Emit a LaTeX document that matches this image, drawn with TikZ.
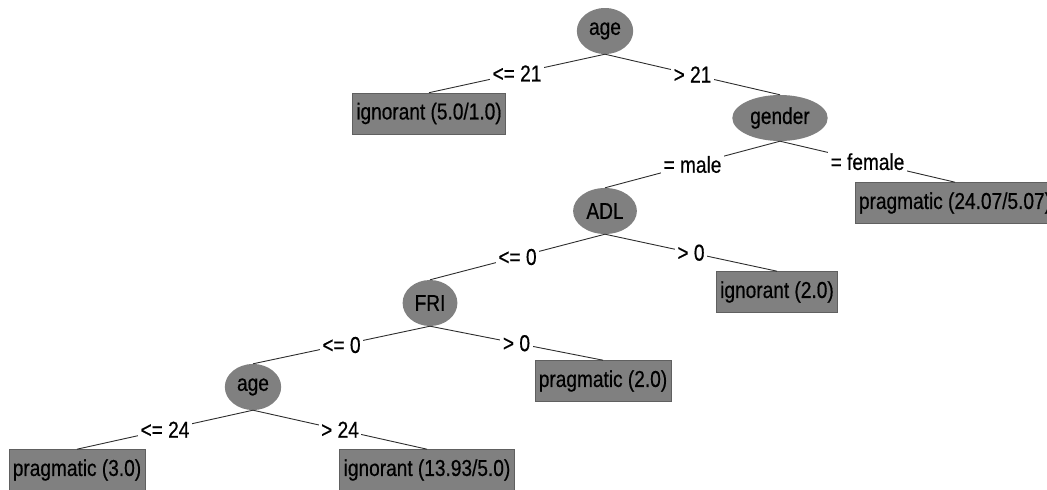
\documentclass[tikz,border=0pt]{standalone}
\usepackage{fontspec}
\setmainfont{Liberation Sans}[FakeStretch=0.83,FakeBold=0.5]
\usetikzlibrary{shapes.geometric}
\definecolor{nodegray}{RGB}{128,128,128}
\definecolor{linegray}{RGB}{45,45,45}
\tikzset{
    every node/.append style={font=\fontsize{23}{27}\selectfont},
    attr/.style={ellipse, fill=nodegray, inner xsep=4pt, minimum height=46pt},
    leaf/.style={rectangle, fill=nodegray, draw=nodegray!75!black, line width=0.6pt,
        inner xsep=4pt, minimum height=41pt},
    cond/.style={fill=white, inner sep=2.5pt},
    branch/.style={draw=linegray, line width=0.9pt},
}

\begin{document}
\begin{tikzpicture}[x=1pt,y=-1pt]
  \clip (0,0) rectangle (1047,490);
  % attribute nodes
  \node[attr] (age) at (605,31) {age};
  \node[attr] (gender) at (780,118) {gender};
  \node[attr] (adl) at (605,211) {ADL};
  \node[attr] (fri) at (430,303) {FRI};
  \node[attr] (agelow) at (253,387) {age};

  % leaves
  \node[leaf] (ignA) at (429,113.5) {ignorant (5.0/1.0)};
  \node[leaf] (pragA) at (955,203) {pragmatic (24.07/5.07)};
  \node[leaf] (ignB) at (777,292) {ignorant (2.0)};
  \node[leaf] (pragB) at (603,381) {pragmatic (2.0)};
  \node[leaf] (pragC) at (77,470) {pragmatic (3.0)};
  \node[leaf] (ignC) at (427,470) {ignorant (13.93/5.0)};

  % branches
  \draw (age.south) edge[branch] node[cond] {<= 21} (ignA.north);
  \draw (age.south) edge[branch] node[cond] {> 21} (gender.north);
  \draw (gender.south) edge[branch] node[cond] {= male} (adl.north);
  \draw (gender.south) edge[branch] node[cond] {= female} (pragA.north);
  \draw (adl.south) edge[branch] node[cond] {<= 0} (fri.north);
  \draw (adl.south) edge[branch] node[cond] {> 0} (ignB.north);
  \draw (fri.south) edge[branch] node[cond] {<= 0} (agelow.north);
  \draw (fri.south) edge[branch] node[cond] {> 0} (pragB.north);
  \draw (agelow.south) edge[branch] node[cond] {<= 24} (pragC.north);
  \draw (agelow.south) edge[branch] node[cond] {> 24} (ignC.north);
\end{tikzpicture}
\end{document}
